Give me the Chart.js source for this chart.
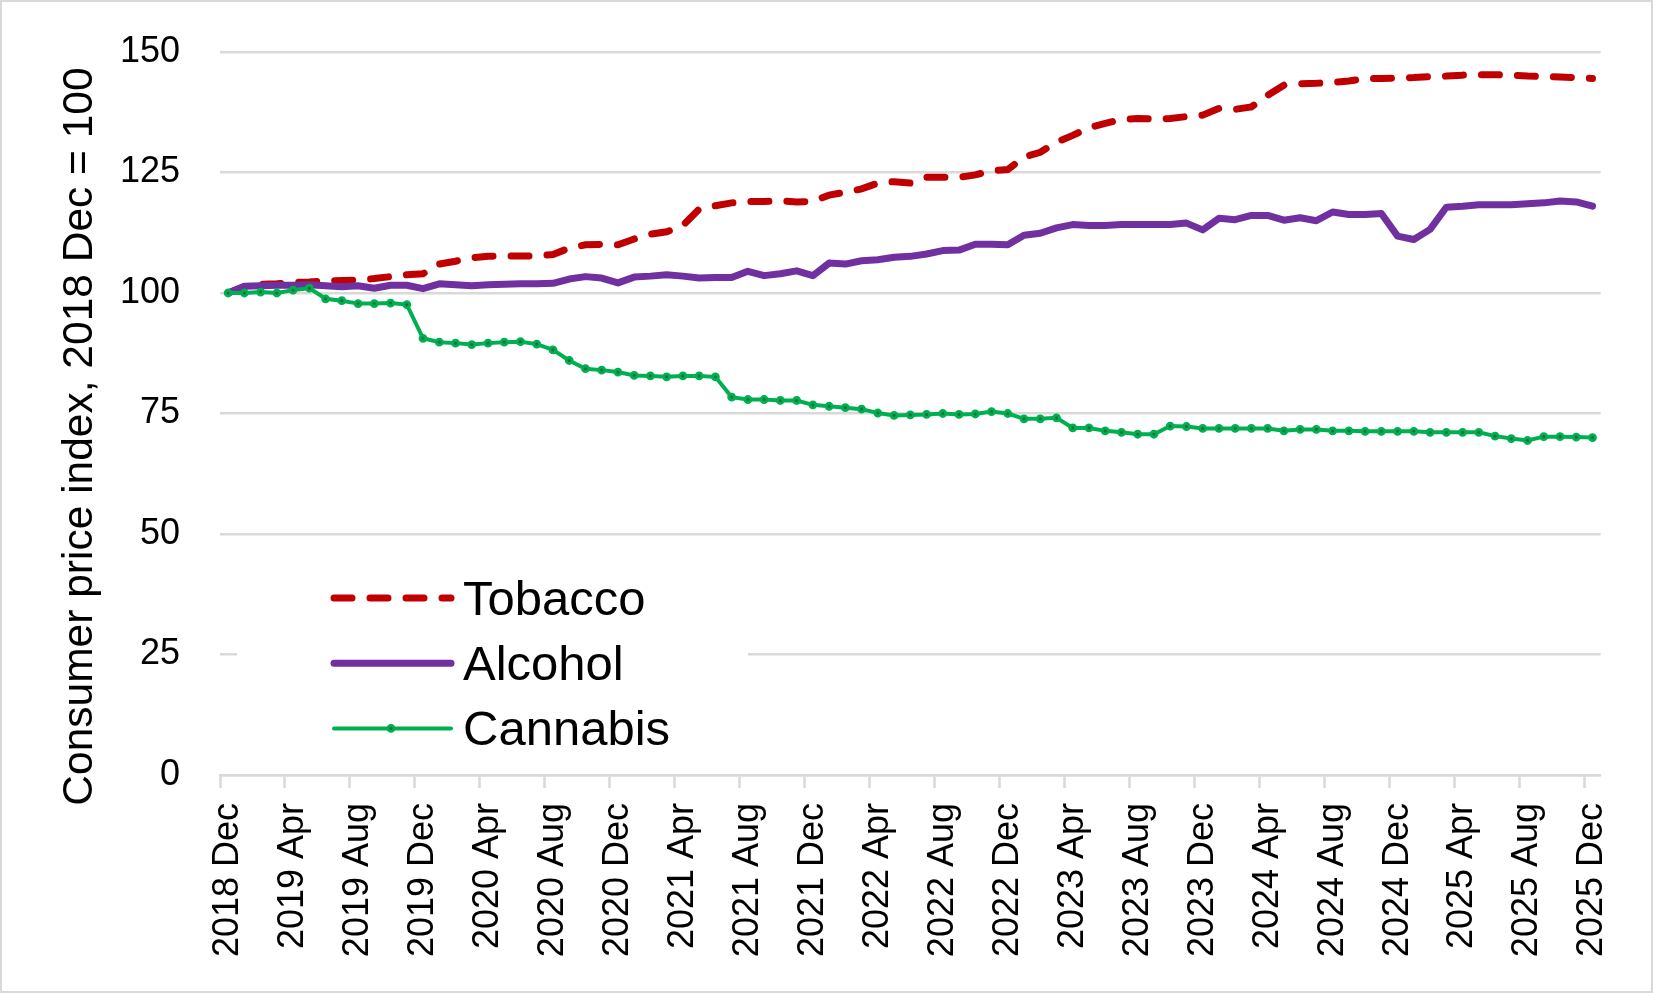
<!DOCTYPE html>
<html>
<head>
<meta charset="utf-8">
<script src="https://cdn.jsdelivr.net/npm/chart.js@4.4.1/dist/chart.umd.min.js"></script>
<style>
  html, body { margin: 0; padding: 0; background: #fff; }
  #frame { width: 1653px; height: 993px; box-sizing: border-box; border: 2px solid #d9d9d9; background: #fff; }
  canvas { display: block; }
</style>
</head>
<body>
<div id="frame"><canvas id="cpi-chart" width="1649" height="989"></canvas></div>
<script>
const monthNames = ["Jan", "Feb", "Mar", "Apr", "May", "Jun", "Jul", "Aug", "Sep", "Oct", "Nov", "Dec"];

// monthly index, 2018 Dec ... 2025 Dec
const tobacco = [100.0, 101.3, 101.8, 101.9, 102.2, 102.3, 102.5, 102.6, 102.7, 103.0, 103.4, 103.8,
                 104.0, 106.0, 106.6, 107.3, 107.6, 107.7, 107.7, 107.7, 108.0, 109.3, 110.0, 110.1,
                 110.0, 111.2, 112.2, 112.7, 114.0, 117.4, 118.1, 118.7, 119.0, 119.0, 119.1, 118.9,
                 119.0, 120.3, 120.9, 121.6, 122.8, 123.1, 122.8, 124.0, 124.0, 124.0, 124.5, 125.4,
                 125.6, 128.2, 129.2, 131.3, 132.7, 134.3, 135.2, 136.0, 136.2, 136.1, 136.2, 136.6,
                 136.9, 138.3, 138.1, 138.6, 141.0, 143.1, 143.4, 143.5, 143.7, 144.0, 144.5, 144.5,
                 144.6, 144.7, 144.9, 145.0, 145.2, 145.3, 145.3, 145.2, 145.0, 144.9, 144.8, 144.7,
                 144.5];

const alcohol = [100.0, 101.4, 101.5, 101.6, 101.6, 101.7, 101.5, 101.3, 101.5, 101.0, 101.6, 101.6,
                 100.9, 101.9, 101.7, 101.5, 101.7, 101.8, 101.9, 101.9, 102.0, 102.9, 103.4, 103.1,
                 102.1, 103.3, 103.5, 103.8, 103.5, 103.1, 103.2, 103.2, 104.5, 103.6, 104.0, 104.6,
                 103.6, 106.2, 106.0, 106.7, 106.9, 107.4, 107.6, 108.1, 108.8, 108.9, 110.1, 110.1,
                 110.0, 112.0, 112.4, 113.5, 114.2, 114.0, 114.0, 114.2, 114.2, 114.2, 114.2, 114.5,
                 113.1, 115.5, 115.2, 116.1, 116.1, 115.1, 115.6, 115.0, 116.8, 116.3, 116.3, 116.5,
                 111.8, 111.1, 113.2, 117.8, 118.0, 118.3, 118.3, 118.3, 118.5, 118.7, 119.1, 118.9,
                 118.0];

const cannabis = [100.0, 100.0, 100.2, 100.0, 100.6, 101.0, 98.8, 98.4, 97.8, 97.8, 97.9, 97.6,
                  90.6, 89.8, 89.6, 89.3, 89.6, 89.8, 89.9, 89.4, 88.2, 86.0, 84.3, 84.0,
                  83.6, 82.9, 82.8, 82.6, 82.8, 82.8, 82.6, 78.4, 77.9, 77.9, 77.7, 77.7,
                  76.8, 76.5, 76.2, 75.9, 75.1, 74.6, 74.7, 74.8, 75.0, 74.8, 74.9, 75.4,
                  75.0, 73.9, 73.9, 74.1, 72.0, 72.0, 71.4, 71.1, 70.7, 70.7, 72.4, 72.3,
                  71.9, 71.9, 71.9, 71.9, 71.9, 71.4, 71.7, 71.7, 71.4, 71.4, 71.3, 71.3,
                  71.3, 71.3, 71.1, 71.1, 71.1, 71.1, 70.3, 69.8, 69.4, 70.2, 70.2, 70.1,
                  70.0];

const yTicks = [0, 25, 50, 75, 100, 125, 150];
const yTitle = "Consumer price index, 2018 Dec = 100";

const labels = [];
for (let k = 0; k < tobacco.length; k++) {
    const m = 11 + k;
    labels.push((2018 + Math.floor(m / 12)) + " " + monthNames[m % 12]);
}

const gridColor = '#d9d9d9';
const fontFamily = '"Liberation Sans", Arial, sans-serif';

Chart.defaults.font.family = fontFamily;
Chart.defaults.color = '#000';

// legend drawn inside the plot, bottom left, on a white box
const insideLegend = {
    id: 'insideLegend',
    beforeDatasetsDraw(chart) {
        const {ctx, chartArea} = chart;
        const x0 = chartArea.left;
        const yb = chartArea.bottom;
        ctx.save();
        ctx.fillStyle = '#fff';
        ctx.fillRect(x0 + 17, yb - 228, 511, 220);
        chart.data.datasets.forEach((ds, i) => {
            const y = yb - 177 + i * 65.2;
            ctx.beginPath();
            ctx.strokeStyle = ds.borderColor;
            ctx.lineWidth = ds.borderWidth;
            ctx.lineCap = 'round';
            ctx.setLineDash(ds.borderDash || []);
            ctx.moveTo(x0 + 114, y);
            ctx.lineTo(x0 + 231, y);
            ctx.stroke();
            ctx.setLineDash([]);
            if (ds.pointRadius) {
                ctx.beginPath();
                ctx.arc(x0 + 171, y, ds.pointRadius, 0, Math.PI * 2);
                ctx.fillStyle = ds.pointBackgroundColor;
                ctx.fill();
                ctx.lineWidth = ds.pointBorderWidth;
                ctx.strokeStyle = ds.pointBorderColor;
                ctx.stroke();
            }
            ctx.fillStyle = '#000';
            ctx.font = '49px ' + fontFamily;
            ctx.textBaseline = 'alphabetic';
            ctx.textAlign = 'left';
            ctx.fillText(ds.label, x0 + 243, y + 17);
        });
        ctx.restore();
    }
};

const sideTitle = {
    id: 'sideTitle',
    afterDraw(chart) {
        const {ctx, chartArea} = chart;
        ctx.save();
        ctx.translate(90, (chartArea.top + chartArea.bottom) / 2 + 23);
        ctx.rotate(-Math.PI / 2);
        ctx.font = '42.5px ' + fontFamily;
        ctx.fillStyle = '#000';
        ctx.textAlign = 'center';
        ctx.textBaseline = 'alphabetic';
        ctx.fillText(yTitle, 0, 0);
        ctx.restore();
    }
};

var cpiChart = new Chart(document.getElementById('cpi-chart'), {
    type: 'line',
    data: {
        labels: labels,
        datasets: [{
            label: 'Tobacco',
            data: tobacco,
            borderColor: '#C00000',
            borderWidth: 7,
            borderDash: [18, 18],
            borderCapStyle: 'round',
            pointRadius: 0,
            tension: 0,
            order: 3
        },
        {
            label: 'Alcohol',
            data: alcohol,
            borderColor: '#7030A0',
            borderWidth: 7,
            borderCapStyle: 'round',
            borderJoinStyle: 'round',
            pointRadius: 0,
            tension: 0,
            order: 2
        },
        {
            label: 'Cannabis',
            data: cannabis,
            borderColor: '#00B050',
            borderWidth: 4,
            pointRadius: 3,
            pointBorderWidth: 2.8,
            pointBackgroundColor: '#1a6f3a',
            pointBorderColor: '#00B050',
            tension: 0,
            order: 1
        }]
    },
    options: {
        responsive: false,
        animation: false,
        devicePixelRatio: 1,
        layout: {
            padding: { top: 50, right: 50, bottom: 0, left: 0 }
        },
        plugins: {
            legend: { display: false },
            tooltip: { enabled: false }
        },
        scales: {
            x: {
                offset: true,
                grid: {
                    offset: true,
                    drawOnChartArea: false,
                    tickLength: 13,
                    tickWidth: 2.5,
                    tickColor: (c) => c.index % 4 === 0 ? gridColor : 'rgba(0,0,0,0)'
                },
                border: { color: gridColor, width: 2.5 },
                ticks: {
                    autoSkip: false,
                    minRotation: 90,
                    maxRotation: 90,
                    padding: 15,
                    font: { size: 36 },
                    callback: function (v, i) {
                        return i % 4 === 0 ? this.getLabelForValue(v) : '';
                    }
                },
                afterFit: (s) => { s.height = 216; }
            },
            y: {
                min: yTicks[0],
                max: yTicks[yTicks.length - 1],
                afterBuildTicks: (s) => { s.ticks = yTicks.map(v => ({ value: v })); },
                grid: { color: gridColor, lineWidth: 2.5, drawTicks: false },
                border: { display: false },
                ticks: { padding: 40, font: { size: 36 } },
                afterFit: (s) => {
                    s.width = 218;
                    s.paddingTop = 20;
                    s.paddingBottom = 20;
                }
            }
        }
    },
    plugins: [insideLegend, sideTitle]
});
</script>
</body>
</html>
